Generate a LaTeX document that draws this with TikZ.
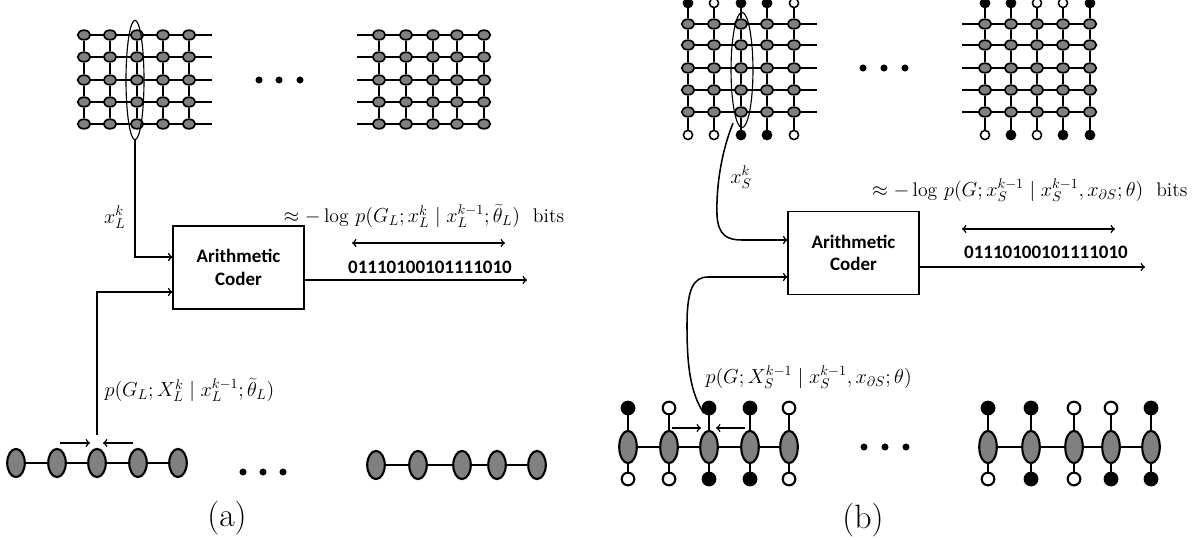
\documentclass[tikz,border=0pt]{standalone}
\usepackage{fontspec}
\newfontfamily\coderfont{Carlito}
\usetikzlibrary{arrows, positioning, shapes, calc}

\begin{document}
\begin{tikzpicture}[
    x=0.025cm, y=-0.025cm, thick,
    site/.style={draw, ellipse, fill=gray, line width=1.2pt, inner sep=0pt,
    minimum width=9pt, minimum height=6.8pt},
    var/.style={draw, ellipse, fill=gray, line width=1.5pt, inner sep=0pt,
    minimum width=12.5pt, minimum height=20pt},
    bnd1/.style={draw, circle, fill=black, line width=1.1pt, inner sep=0pt,
    minimum size=6.5pt},
    bnd0/.style={bnd1, fill=white},
    big1/.style={bnd1, line width=1.5pt, minimum size=9pt},
    big0/.style={big1, fill=white},
    more/.style={circle, fill=black, inner sep=0pt, minimum size=5pt},
    block/.style={draw, line width=1pt, align=center,
    font=\coderfont\bfseries\fontsize{13.5}{16}\selectfont,
    minimum width=93pt, minimum height=59pt},
    bits/.style={font=\coderfont\bfseries\fontsize{13.5}{16}\selectfont,
    inner sep=0pt},
    formula/.style={font=\fontsize{14}{17}\selectfont, inner sep=0pt},
    title/.style={font=\fontsize{24}{28}\selectfont, inner sep=0pt},
    link/.style={line width=1.7pt},
    wire/.style={line width=1.1pt}
    ]
    \useasboundingbox (0,0) rectangle (1196,539);

    % ---------------- (a) ----------------
    % lattice, left
    \foreach \c/\x in {1/84, 2/110, 3/137, 4/163, 5/189}
      \foreach \r/\y in {1/35, 2/57, 3/80, 4/102, 5/124}
        \node[site] (A-\c-\r) at (\x,\y) {};
    \foreach \r in {1,...,5} {
      \foreach \c [count=\n from 2] in {1,...,4} \draw[link] (A-\c-\r) -- (A-\n-\r);
      \draw[link] (A-5-\r) -- ++(23,0);
    }
    \foreach \c in {1,...,5}
      \foreach \r [count=\n from 2] in {1,...,4} \draw[link] (A-\c-\r) -- (A-\c-\n);
    \node[draw, ellipse, line width=0.8pt, minimum width=12.8pt, minimum height=85pt]
      (colL) at (135,80) {};

    \node[more] (mA1) at (259,80) {};
    \node[more] (mA2) at (279,80) {};
    \node[more] (mA3) at (300,80) {};

    % lattice, right
    \foreach \c/\x in {1/379, 2/406, 3/433, 4/457, 5/484}
      \foreach \r/\y in {1/35, 2/57, 3/80, 4/102, 5/124}
        \node[site] (B-\c-\r) at (\x,\y) {};
    \foreach \r in {1,...,5} {
      \foreach \c [count=\n from 2] in {1,...,4} \draw[link] (B-\c-\r) -- (B-\n-\r);
      \draw[link] (B-1-\r) -- ++(-22,0);
    }
    \foreach \c in {1,...,5}
      \foreach \r [count=\n from 2] in {1,...,4} \draw[link] (B-\c-\r) -- (B-\c-\n);

    % coder
    \node[block] (coderL) at (238.5,267.5) {Arithmetic\\Coder};
    \coordinate (inL1) at (coderL.west |- 0,257);
    \coordinate (inL2) at (coderL.west |- 0,292);
    \coordinate (outL) at (527,280);
    \node[formula] (xL) at (115,217) {$x_L^k$};
    \node[formula, anchor=west] (rateL) at (283,216)
      {$\approx -\log\, p\bigl(G_L; x_L^k \mid x_L^{k-1}; \widetilde{\theta}_L\bigr)$\ \ bits};
    \node[bits] (bitsL) at (430,267) {01110100101111010};
    \coordinate (lenL1) at (352,243);
    \coordinate (lenL2) at (505,243);

    % chains
    \foreach \c/\x in {1/16, 2/57, 3/97, 4/138, 5/178}
      \node[var] (c1-\c) at (\x,463) {};
    \foreach \c/\x in {1/376, 2/418, 3/462, 4/497, 5/537}
      \node[var] (c2-\c) at (\x,465) {};
    \foreach \c [count=\n from 2] in {1,...,4} {
      \draw[link] (c1-\c) -- (c1-\n);
      \draw[link] (c2-\c) -- (c2-\n);
    }
    \node[more] (mC1) at (243,472) {};
    \node[more] (mC2) at (263,472) {};
    \node[more] (mC3) at (283,472) {};
    \node[formula, anchor=west] (probL) at (104,390)
      {$p\bigl(G_L; X_L^k \mid x_L^{k-1}; \widetilde{\theta}_L\bigr)$};
    \node[title] (capA) at (227,518) {(a)};

    \path[->, wire]
    (colL.south) edge [to path={|- (\tikztotarget)}] (inL1)
    (c1-3.north) edge [shorten <=9pt, to path={|- (\tikztotarget)}] (inL2)
    (coderL.east |- outL) edge (outL)
    ($(c1-2)+(3,-20)$) edge ($(c1-3)+(-7,-20)$)
    ($(c1-4)+(-5,-20)$) edge ($(c1-3)+(6,-20)$)
    ;
    \draw[<->, wire] (lenL1) -- (lenL2);

    % ---------------- (b) ----------------
    % lattice, left
    \foreach \c/\x/\t/\b in {1/688/bnd1/bnd0, 2/714/bnd0/bnd0, 3/741/bnd1/bnd1,
                             4/767/bnd1/bnd1, 5/794/bnd0/bnd0} {
      \node[\t] (C-\c-0) at (\x,3) {};
      \node[\b] (C-\c-6) at (\x,135) {};
      \foreach \r/\y in {1/24, 2/45, 3/68, 4/90, 5/112}
        \node[site] (C-\c-\r) at (\x,\y) {};
      \foreach \r [count=\n from 1] in {0,...,5} \draw[link] (C-\c-\r) -- (C-\c-\n);
    }
    \foreach \r in {1,...,5} {
      \foreach \c [count=\n from 2] in {1,...,4} \draw[link] (C-\c-\r) -- (C-\n-\r);
      \draw[link] (C-5-\r) -- ++(23,0);
    }
    \node[draw, ellipse, line width=0.8pt, minimum width=15.6pt, minimum height=82pt]
      (colS) at (742,70) {};

    \node[more] (mB1) at (863,68) {};
    \node[more] (mB2) at (884,68) {};
    \node[more] (mB3) at (905,68) {};

    % lattice, right
    \foreach \c/\x/\t/\b in {1/985/bnd1/bnd0, 2/1011/bnd1/bnd1, 3/1037/bnd0/bnd0,
                             4/1063/bnd0/bnd1, 5/1090/bnd1/bnd1} {
      \node[\t] (D-\c-0) at (\x,3) {};
      \node[\b] (D-\c-6) at (\x,135) {};
      \foreach \r/\y in {1/24, 2/45, 3/68, 4/90, 5/112}
        \node[site] (D-\c-\r) at (\x,\y) {};
      \foreach \r [count=\n from 1] in {0,...,5} \draw[link] (D-\c-\r) -- (D-\c-\n);
    }
    \foreach \r in {1,...,5} {
      \foreach \c [count=\n from 2] in {1,...,4} \draw[link] (D-\c-\r) -- (D-\n-\r);
      \draw[link] (D-1-\r) -- ++(-23,0);
    }

    % coder
    \node[block] (coderS) at (853.5,253) {Arithmetic\\Coder};
    \coordinate (inS1) at (coderS.west |- 0,240);
    \coordinate (inS2) at (coderS.west |- 0,277);
    \coordinate (outS) at (1145,267);
    \node[formula] (xS) at (741,177) {$x_S^k$};
    \node[formula, anchor=east] (rateS) at (1188,190)
      {$\approx -\log\, p\bigl(G; x_S^{k-1} \mid x_S^{k-1}, x_{\partial S}; \theta\bigr)$\ \ bits};
    \node[bits] (bitsS) at (1046,252) {01110100101111010};
    \coordinate (lenS1) at (962,229);
    \coordinate (lenS2) at (1115,229);

    % chains
    \foreach \c/\x/\t/\b in {1/628/big1/big0, 2/669/big0/big0, 3/709/big1/big1,
                             4/750/big1/big1, 5/789/big0/big0} {
      \node[var, minimum height=23pt] (E-\c) at (\x,447) {};
      \node[\t] (E-\c-t) at (\x,408) {};
      \node[\b] (E-\c-b) at (\x,479) {};
      \draw[link] (E-\c) -- (E-\c-t);
      \draw[link] (E-\c) -- (E-\c-b);
    }
    \foreach \c/\x/\t/\b in {1/988/big1/big0, 2/1031/big1/big1, 3/1074/big0/big0,
                             4/1111/big0/big1, 5/1151/big1/big1} {
      \node[var, minimum height=23pt] (F-\c) at (\x,447) {};
      \node[\t] (F-\c-t) at (\x,408) {};
      \node[\b] (F-\c-b) at (\x,479) {};
      \draw[link] (F-\c) -- (F-\c-t);
      \draw[link] (F-\c) -- (F-\c-b);
    }
    \foreach \c [count=\n from 2] in {1,...,4} {
      \draw[link] (E-\c) -- (E-\n);
      \draw[link] (F-\c) -- (F-\n);
    }
    \node[more] (mD1) at (864,447) {};
    \node[more] (mD2) at (885,447) {};
    \node[more] (mD3) at (906,447) {};
    \node[formula, anchor=west] (probS) at (705,377)
      {$p\bigl(G; X_S^{k-1} \mid x_S^{k-1}, x_{\partial S}; \theta\bigr)$};
    \node[title] (capB) at (863,520) {(b)};

    \draw[->, wire] ($(colS.south)+(-9,-5)$) .. controls (722,150) and (716,185) .. (717,215)
      .. controls (718,236) and (728,240) .. (742,240) -- (inS1);
    \draw[->, wire] (E-3-t.south west) .. controls (690,392) and (687,365) .. (687,325)
      .. controls (687,290) and (693,277) .. (708,277) -- (inS2);
    \path[->, wire]
    (coderS.east |- outS) edge (outS)
    ($(E-2)+(3,-19)$) edge ($(E-3)+(-8,-19)$)
    ($(E-4)+(-5,-19)$) edge ($(E-3)+(7,-19)$)
    ;
    \draw[<->, wire] (lenS1) -- (lenS2);
\end{tikzpicture}
\end{document}
